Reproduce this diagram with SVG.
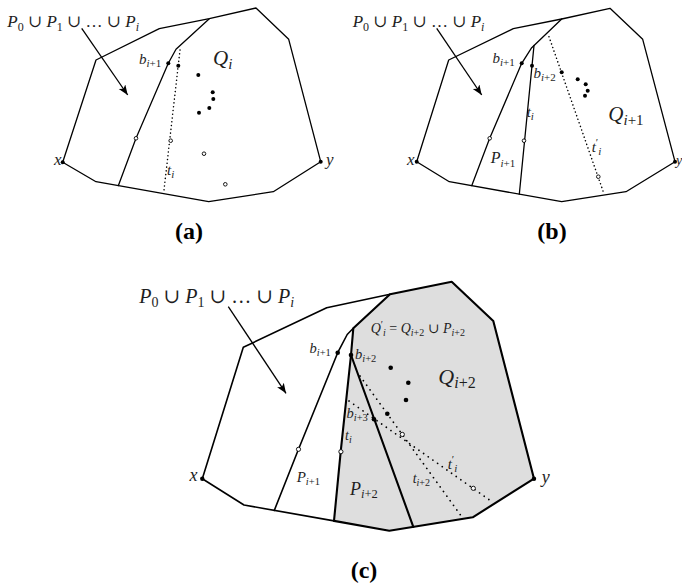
<svg xmlns="http://www.w3.org/2000/svg" width="682" height="586" viewBox="0 0 682 586">
<defs>
<style>
.ln{fill:none;stroke:#000;stroke-width:1.3;stroke-linejoin:round;stroke-linecap:round}
.lc{fill:none;stroke:#000;stroke-width:1.6;stroke-linejoin:round;stroke-linecap:round}
.thk{fill:none;stroke:#000;stroke-width:2.1;stroke-linejoin:round;stroke-linecap:round}
.gray{fill:#dedede;stroke:none}
.dot{fill:#000}
.oc{fill:#fff;stroke:#000;stroke-width:0.9}
.dt{fill:none;stroke:#000;stroke-width:1.5;stroke-dasharray:0.1 3.7;stroke-linecap:round}
.dtc{fill:none;stroke:#000;stroke-width:1.7;stroke-dasharray:0.1 5.6;stroke-linecap:round}
.m{font-family:"Liberation Serif","DejaVu Serif",serif;font-style:italic;fill:#1e1e1e}
.r{font-style:normal}
.cap{font-family:"Liberation Serif","DejaVu Serif",serif;font-weight:bold;fill:#000;text-anchor:middle}
.arr{fill:none;stroke:#000;stroke-width:1.3;marker-end:url(#ah)}
</style>
<marker id="ah" markerUnits="userSpaceOnUse" markerWidth="12" markerHeight="10" refX="10" refY="4" orient="auto">
<path d="M0,0 L10,4 L0,8 L2.5,4 Z" fill="#000"/>
</marker>
</defs>

<!-- Panel (a) -->
<g id="panel-a">
<path class="ln" d="M62.7,162.3 L96,60 L159.3,28.7 L209.3,18.7 L256,8 L288.7,39.3 L320.7,161.7 L273.3,191.7 L208.7,201.7 L96,181.7 Z"/>
<polyline class="ln" points="209.3,18.7 176,49.3 168.3,63.3 136,138.3 118.3,185.7"/>
<line class="dt" x1="180" y1="50" x2="164" y2="190"/>
<g class="dot">
<circle cx="62.7" cy="162.3" r="2"/><circle cx="320.7" cy="161.7" r="2"/>
<circle cx="168.3" cy="63.3" r="2"/><circle cx="178.3" cy="65.7" r="2"/>
<circle cx="198.3" cy="75" r="2"/><circle cx="212.7" cy="92.3" r="2"/>
<circle cx="213.3" cy="99" r="2"/><circle cx="209.3" cy="108" r="2"/>
<circle cx="199" cy="112.7" r="2"/>
</g>
<g class="oc">
<circle cx="136" cy="138.3" r="1.8"/><circle cx="170.7" cy="140.7" r="1.8"/>
<circle cx="204" cy="153.7" r="1.8"/><circle cx="225.3" cy="184.3" r="1.8"/>
</g>
<text class="m" x="7.3" y="27" font-size="17">P<tspan class="r" font-size="12" dy="3.5">0</tspan><tspan class="r" dy="-3.5"> ∪ </tspan>P<tspan class="r" font-size="12" dy="3.5">1</tspan><tspan class="r" dy="-3.5"> ∪ … ∪ </tspan>P<tspan font-size="12" dy="3.5">i</tspan></text>
<text class="m" x="139" y="64" font-size="15">b<tspan font-size="11" dy="3">i</tspan><tspan class="r" font-size="11">+1</tspan></text>
<text class="m" x="213" y="65" font-size="21">Q<tspan font-size="15" dy="4">i</tspan></text>
<text class="m" x="54" y="165" font-size="17">x</text>
<text class="m" x="326" y="165" font-size="17">y</text>
<text class="m" x="167" y="175" font-size="15">t<tspan font-size="11" dy="3">i</tspan></text>
<text class="cap" x="189" y="238.5" font-size="24">(a)</text>
</g>

<!-- Panel (b) -->
<g id="panel-b">
<path class="ln" d="M416.7,161.7 L448.7,60 L513.3,28.7 L561.7,19 L610,8.3 L642.7,39.3 L675,161.7 L626,191.7 L561.7,201.7 L449.3,181.7 Z"/>
<polyline class="ln" points="561.7,19 531.7,47.7 521.7,63.3 489.7,138.3 471.7,185.7"/>
<line class="ln" x1="534" y1="45.5" x2="519.3" y2="194.2"/>
<line class="dt" x1="549" y1="36.7" x2="603.3" y2="191.7"/>
<g class="dot">
<circle cx="416.7" cy="161.7" r="2"/><circle cx="675" cy="161.7" r="2"/>
<circle cx="521.7" cy="63.3" r="2"/><circle cx="532" cy="65.7" r="2"/>
<circle cx="561.7" cy="72.3" r="2"/><circle cx="577.7" cy="79.3" r="2"/>
<circle cx="585.7" cy="84.3" r="2"/><circle cx="587.7" cy="90.7" r="2"/>
<circle cx="585" cy="95.7" r="2"/>
</g>
<g class="oc">
<circle cx="489.7" cy="138.3" r="1.8"/><circle cx="524" cy="140.7" r="1.8"/>
<circle cx="598.3" cy="176.7" r="1.8"/>
</g>
<text class="m" x="352.7" y="27" font-size="17">P<tspan class="r" font-size="12" dy="3.5">0</tspan><tspan class="r" dy="-3.5"> ∪ </tspan>P<tspan class="r" font-size="12" dy="3.5">1</tspan><tspan class="r" dy="-3.5"> ∪ … ∪ </tspan>P<tspan font-size="12" dy="3.5">i</tspan></text>
<text class="m" x="492.5" y="63" font-size="15">b<tspan font-size="11" dy="3">i</tspan><tspan class="r" font-size="11">+1</tspan></text>
<text class="m" x="533.5" y="78" font-size="15">b<tspan font-size="11" dy="3">i</tspan><tspan class="r" font-size="11">+2</tspan></text>
<text class="m" x="526.7" y="117" font-size="15">t<tspan font-size="11" dy="3">i</tspan></text>
<text class="m" x="608.3" y="121" font-size="21">Q<tspan font-size="15" dy="4">i</tspan><tspan class="r" font-size="15">+1</tspan></text>
<text class="m" x="591.7" y="152" font-size="15">t<tspan class="r" font-size="11" dy="-6">′</tspan><tspan font-size="11" dy="9">i</tspan></text>
<text class="m" x="490.7" y="163" font-size="16">P<tspan font-size="11" dy="3.5">i</tspan><tspan class="r" font-size="11">+1</tspan></text>
<text class="m" x="407" y="165" font-size="17">x</text>
<text class="m" x="676" y="165" font-size="14">y</text>
<text class="cap" x="552" y="238.5" font-size="24">(b)</text>
</g>

<!-- Panel (c) -->
<g id="panel-c">
<path class="gray" d="M353.3,328.3 L390,294.3 L451.7,281.7 L493.3,321 L534,478.7 L472.7,517.3 L389.3,530.7 L334,520.9 L340.7,451.7 L351,355 Z"/>
<path class="lc" d="M390,294.3 L326.7,307.7 L243.3,347.3 L202.3,478.7 L244,505 L334,520.9"/>
<polyline class="lc" points="353.3,328.3 347.2,334.5 337.7,352.7 298.5,449.3 274.3,510.4"/>
<path class="thk" d="M353.3,328.3 L390,294.3 L451.7,281.7 L493.3,321 L534,478.7 L472.7,517.3 L389.3,530.7 L334,520.9 L340.7,451.7 L351,355 Z"/>
<line class="thk" x1="351" y1="355" x2="413.3" y2="526.8"/>
<line class="dtc" x1="360" y1="376" x2="461.7" y2="516.7"/>
<line class="dtc" x1="349" y1="401" x2="491" y2="501"/>
<g class="dot">
<circle cx="202.3" cy="478.7" r="2.2"/><circle cx="534" cy="478.7" r="2.2"/>
<circle cx="337.7" cy="352.7" r="2.3"/><circle cx="351" cy="355" r="2.3"/>
<circle cx="374" cy="419.3" r="2.3"/><circle cx="390.7" cy="367.7" r="2.3"/>
<circle cx="408.3" cy="382.7" r="2.3"/><circle cx="406" cy="400" r="2.3"/>
<circle cx="387.3" cy="413.7" r="2.3"/>
</g>
<g class="oc">
<circle cx="298.5" cy="449.3" r="2.1"/><circle cx="340.9" cy="451.7" r="2.1"/>
<circle cx="402.3" cy="434.4" r="2.1"/><circle cx="473.3" cy="488.3" r="2.1"/>
</g>
<text class="m" x="139.3" y="303" font-size="20">P<tspan class="r" font-size="14" dy="4">0</tspan><tspan class="r" dy="-4"> ∪ </tspan>P<tspan class="r" font-size="14" dy="4">1</tspan><tspan class="r" dy="-4"> ∪ … ∪ </tspan>P<tspan font-size="14" dy="4">i</tspan></text>
<text class="m" x="309.5" y="353" font-size="14.5">b<tspan font-size="10.5" dy="3">i</tspan><tspan class="r" font-size="10.5">+1</tspan></text>
<text class="m" x="355" y="358.5" font-size="14.5">b<tspan font-size="10.5" dy="3">i</tspan><tspan class="r" font-size="10.5">+2</tspan></text>
<text class="m" x="346.5" y="418" font-size="14.5">b<tspan font-size="10.5" dy="3">i</tspan><tspan class="r" font-size="10.5">+3</tspan></text>
<text class="m" x="370.7" y="333" font-size="14">Q<tspan class="r" font-size="10" dy="-5">′</tspan><tspan font-size="10" dy="8">i</tspan><tspan class="r" dy="-3"> = </tspan>Q<tspan font-size="10" dy="3">i</tspan><tspan class="r" font-size="10">+2</tspan><tspan class="r" dy="-3"> ∪ </tspan>P<tspan font-size="10" dy="3">i</tspan><tspan class="r" font-size="10">+2</tspan></text>
<text class="m" x="438.3" y="384" font-size="22">Q<tspan font-size="16" dy="4">i</tspan><tspan class="r" font-size="16">+2</tspan></text>
<text class="m" x="345" y="440" font-size="14">t<tspan font-size="10" dy="3">i</tspan></text>
<text class="m" x="296.7" y="482" font-size="15">P<tspan font-size="10.5" dy="3">i</tspan><tspan class="r" font-size="10.5">+1</tspan></text>
<text class="m" x="350" y="494.5" font-size="18">P<tspan font-size="12.5" dy="3.5">i</tspan><tspan class="r" font-size="12.5">+2</tspan></text>
<text class="m" x="412.7" y="483" font-size="14">t<tspan font-size="10" dy="3">i</tspan><tspan class="r" font-size="10">+2</tspan></text>
<text class="m" x="447.7" y="469" font-size="15">t<tspan class="r" font-size="11" dy="-6">′</tspan><tspan font-size="11" dy="9">i</tspan></text>
<text class="m" x="189.5" y="481" font-size="18">x</text>
<text class="m" x="541.7" y="483" font-size="18">y</text>
<text class="cap" x="364" y="578" font-size="24">(c)</text>
</g>

<!-- Connectors -->
<g id="connectors">
<line class="arr" x1="81.7" y1="28.3" x2="127.7" y2="95"/>
<line class="arr" x1="436.7" y1="28.3" x2="481.7" y2="95"/>
<line class="arr" x1="228.3" y1="306.7" x2="286" y2="393.3"/>
</g>
</svg>
